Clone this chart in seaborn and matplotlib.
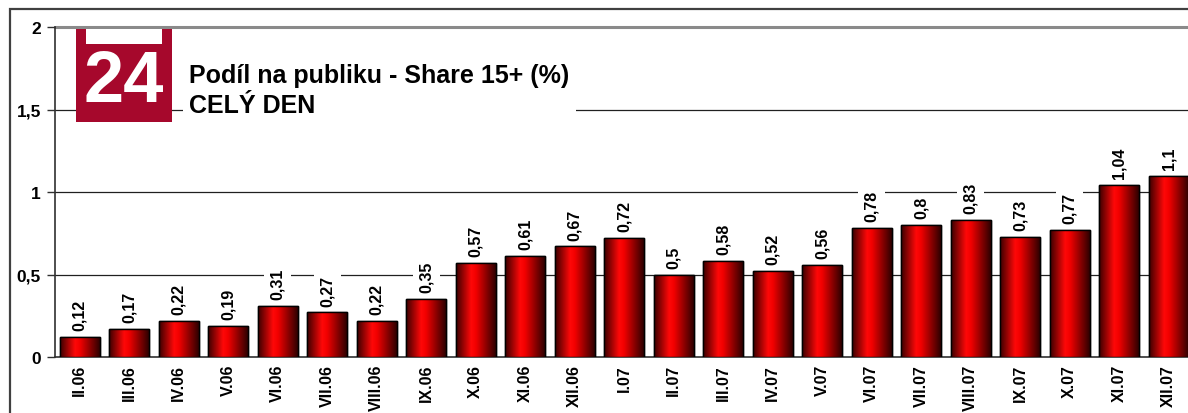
import numpy as np
import pandas as pd
import matplotlib
matplotlib.use("Agg")
import matplotlib.pyplot as plt
from matplotlib.patches import Rectangle
from matplotlib.colors import LinearSegmentedColormap
import seaborn as sns

# monthly share, CT24, whole day
months = ["II.06", "III.06", "IV.06", "V.06", "VI.06", "VII.06", "VIII.06", "IX.06",
          "X.06", "XI.06", "XII.06", "I.07", "II.07", "III.07", "IV.07", "V.07",
          "VI.07", "VII.07", "VIII.07", "IX.07", "X.07", "XI.07", "XII.07"]
share = [0.12, 0.17, 0.22, 0.19, 0.31, 0.27, 0.22, 0.35, 0.57, 0.61, 0.67, 0.72,
         0.5, 0.58, 0.52, 0.56, 0.78, 0.8, 0.83, 0.73, 0.77, 1.04, 1.1]
yticks = [0, 0.5, 1, 1.5, 2]
ytick_labels = ["0", "0,5", "1", "1,5", "2"]
title1 = "Podíl na publiku - Share 15+ (%)"
title2 = "CELÝ DEN"

df = pd.DataFrame({"mesic": months, "share": share})

sns.set_style("white")
plt.rcParams["font.family"] = ["Liberation Sans", "DejaVu Sans"]
plt.rcParams["font.weight"] = "bold"
plt.rcParams["text.color"] = "black"
plt.rcParams["xtick.color"] = "black"
plt.rcParams["ytick.color"] = "black"

W, H = 1188, 414
fig = plt.figure(figsize=(W / 100, H / 100), dpi=100)
px = lambda x, y: (x / W, 1 - y / H)

# outer frame
fig.patches.append(Rectangle(px(10, 600), 2, (600 - 10) / H, transform=fig.transFigure,
                             fill=False, edgecolor="#404040", linewidth=1.6, zorder=0))

ax = fig.add_axes([55 / W, (H - 358) / H, 23 * 49.5 / W, 330 / H])
sns.barplot(data=df, x="mesic", y="share", ax=ax, color="red", width=0.8,
            edgecolor="black", linewidth=1, saturation=1, zorder=3)

# cylinder-like shading on each bar
cmap = LinearSegmentedColormap.from_list("cyl", [(0, "#3a0000"), (0.38, "#ff0808"),
                                                  (0.5, "#f20000"), (1, "#2e0000")])
grad = np.linspace(0, 1, 256).reshape(1, -1)
for p in list(ax.patches):
    x0, y0 = p.get_x(), p.get_y()
    w, h = p.get_width(), p.get_height()
    im = ax.imshow(grad, cmap=cmap, aspect="auto", extent=(x0, x0 + w, y0, y0 + h),
                   zorder=3.1, interpolation="bilinear")
    im.set_clip_path(p)
    ax.add_patch(Rectangle((x0, y0), w, h, fill=False, edgecolor="black",
                           linewidth=1, zorder=3.2))

ax.set_xlim(-0.5, 22.5)
ax.set_ylim(0, 2)
ax.set_xlabel("")
ax.set_ylabel("")

for yv in [0.5, 1, 1.5]:
    ax.axhline(yv, color="#202020", linewidth=0.9, zorder=0.5)
ax.axhline(2, color="#8a8a8a", linewidth=2.2, zorder=0.5, clip_on=False)

# value labels
labels = []
for i, v in enumerate(share):
    t = ax.annotate(f"{v:g}".replace(".", ","), (i, v), xytext=(0, 5), textcoords="offset points",
                    rotation=90, ha="center", va="bottom", fontsize=11.5, fontweight="bold",
                    zorder=4)
    labels.append(t)

ax.set_yticks(yticks)
ax.set_yticklabels(ytick_labels, fontsize=12.5, fontweight="bold")
ax.set_xticks(range(len(months)))
ax.set_xticklabels(months, rotation=90, fontsize=11.5, fontweight="bold", va="top")
ax.set_xticks(np.arange(-0.5, 23, 1), minor=True)
ax.tick_params(axis="x", which="major", length=0, pad=5)
ax.tick_params(axis="x", which="minor", length=5, width=1, color="#303030", direction="out")
ax.tick_params(axis="y", length=6, width=1, color="#303030", direction="out", pad=4, left=True)

for s in ["top", "right"]:
    ax.spines[s].set_visible(False)
for s in ["left", "bottom"]:
    ax.spines[s].set_color("#303030")
    ax.spines[s].set_linewidth(1.2)

# white boxes behind value labels (they cut the gridlines)
fig.canvas.draw()
rend = fig.canvas.get_renderer()
inv = ax.transData.inverted()
for t in labels:
    bb = t.get_window_extent(rend)
    (a0, b0), (a1, b1) = inv.transform([(bb.x0 - 6, bb.y0 - 2), (bb.x1 + 6, bb.y1 + 2)])
    ax.add_patch(Rectangle((a0, b0), a1 - a0, b1 - b0, facecolor="white",
                           edgecolor="none", zorder=1))

# logo CT24
fig.patches.append(Rectangle(px(76, 123), 96 / W, 93 / H, transform=fig.transFigure,
                             facecolor="#a6082c", edgecolor="none", zorder=5))
fig.patches.append(Rectangle(px(86, 45), 76 / W, 15 / H, transform=fig.transFigure,
                             facecolor="white", edgecolor="none", zorder=6))
fig.text(*px(124, 102), "24", color="white", fontsize=52, fontweight="bold",
         ha="center", va="baseline", zorder=7)

# title block
fig.patches.append(Rectangle(px(183, 122), (576 - 183) / W, 66 / H, transform=fig.transFigure,
                             facecolor="white", edgecolor="none", zorder=5))
fig.text(*px(189, 83), title1, fontsize=18, fontweight="bold", ha="left", va="baseline", zorder=7)
fig.text(*px(189, 113), title2, fontsize=18, fontweight="bold", ha="left", va="baseline", zorder=7)

fig.savefig("out.png", dpi=100)
